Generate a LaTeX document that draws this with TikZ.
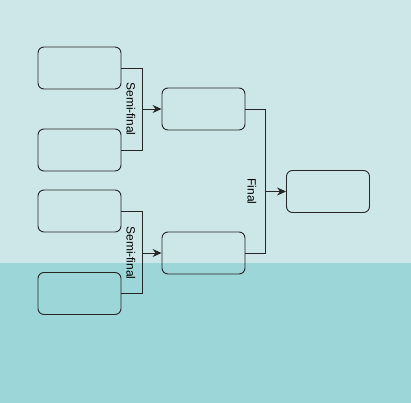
\documentclass[tikz,border=0pt]{standalone}
\usepackage{fontspec}
\setmainfont{Liberation Sans}
\usetikzlibrary{arrows.meta, positioning}

\definecolor{skytop}{HTML}{CDE6E8}
\definecolor{skybot}{HTML}{9DD6D8}

\tikzset{
  slot/.style={draw=black!85, line width=0.9pt, rounded corners=6pt,
    minimum width=83bp, minimum height=42bp, inner sep=0pt},
  link/.style={draw=black!85, line width=0.9pt},
  win/.style={link, -{Stealth[length=9pt, width=8pt]}},
  round label/.style={font=\fontsize{12}{14}\selectfont, rotate=-90, inner sep=0pt}
}

\begin{document}
\begin{tikzpicture}[x=1bp, y=1bp]
  % background
  \fill[skybot] (0,0) rectangle (411,140);
  \fill[skytop] (0,140) rectangle (411,403);
  \useasboundingbox (0,0) rectangle (411,403);

  % first round
  \node[slot] (a1) at (79.5,335) {};
  \node[slot] (a2) at (79.5,253) {};
  \node[slot] (a3) at (79.5,192) {};
  \node[slot] (a4) at (79.5,109.5) {};

  % semi-finals and final
  \node[slot] (b1) at (203.5,294) {};
  \node[slot] (b2) at (203.5,150) {};
  \node[slot] (c) at (328,211.5) {};

  % joints
  \coordinate (j1) at (142.5,294);
  \coordinate (j2) at (142.5,150);
  \coordinate (j3) at (265.5,211.5);

  % brackets
  \draw[link] (a1.east) -| (j1) |- (a2.east);
  \draw[win] (j1) -- (b1.west);
  \draw[link] (a3.east) -| (j2) |- (a4.east);
  \draw[win] (j2) -- (b2.west);
  \draw[link] (b1.east) -| (j3) |- (b2.east);
  \draw[win] (j3) -- (c.west);

  % labels
  \node[round label] (s1) at (131,294) {Semi-final};
  \node[round label] (s2) at (131,150) {Semi-final};
  \node[round label] (f) at (252,211.5) {Final};
\end{tikzpicture}
\end{document}
